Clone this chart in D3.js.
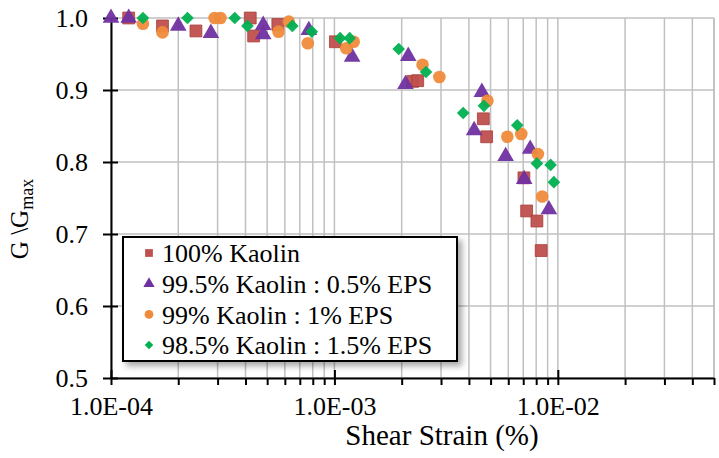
<!DOCTYPE html>
<html>
<head>
<meta charset="utf-8">
<script src="https://cdn.jsdelivr.net/npm/d3@7"></script>
<style>
  body { margin: 0; background: #fff; }
  svg text { font-family: "Liberation Serif", "Times New Roman", serif !important; }
</style>
</head>
<body>
<div id="chart"></div>
<script>
// Data
var kaolinX = [1.20e-4, 1.70e-4, 2.40e-4, 4.20e-4, 4.35e-4, 5.58e-4, 1.01e-3, 2.24e-3, 2.36e-3, 4.64e-3, 4.80e-3, 7.05e-3, 7.25e-3, 8.06e-3, 8.42e-3];
var kaolinY = [1.000, 0.989, 0.982, 1.000, 0.975, 0.991, 0.967, 0.912, 0.913, 0.860, 0.835, 0.778, 0.732, 0.718, 0.677];

var eps05X = [1.00e-4, 1.20e-4, 2.00e-4, 2.80e-4, 4.80e-4, 4.80e-4, 7.68e-4, 1.20e-3, 2.14e-3, 2.08e-3, 4.57e-3, 4.22e-3, 5.84e-3, 7.52e-3, 7.07e-3, 9.12e-3];
var eps05Y = [1.000, 1.000, 0.989, 0.979, 0.990, 0.977, 0.983, 0.946, 0.947, 0.908, 0.897, 0.844, 0.808, 0.818, 0.776, 0.734];

var eps1X = [1.39e-4, 1.70e-4, 2.91e-4, 3.09e-4, 5.62e-4, 6.25e-4, 7.60e-4, 1.13e-3, 1.22e-3, 2.48e-3, 2.95e-3, 4.84e-3, 5.94e-3, 6.86e-3, 8.14e-3, 8.51e-3];
var eps1Y = [0.992, 0.980, 1.000, 1.000, 0.981, 0.995, 0.965, 0.958, 0.967, 0.935, 0.918, 0.885, 0.835, 0.839, 0.811, 0.752];

var eps15X = [1.39e-4, 2.20e-4, 3.58e-4, 4.08e-4, 6.48e-4, 7.92e-4, 1.06e-3, 1.17e-3, 1.94e-3, 2.57e-3, 4.67e-3, 3.77e-3, 6.58e-3, 8.06e-3, 9.28e-3, 9.60e-3];
var eps15Y = [1.000, 1.000, 1.000, 0.989, 0.989, 0.981, 0.972, 0.972, 0.957, 0.925, 0.878, 0.868, 0.851, 0.798, 0.796, 0.772];

var seriesNames = ["100% Kaolin", "99.5% Kaolin : 0.5% EPS", "99% Kaolin : 1% EPS", "98.5% Kaolin : 1.5% EPS"];
var yTicks = [0.5, 0.6, 0.7, 0.8, 0.9, 1.0];
var xMajor = [1e-4, 1e-3, 1e-2];
var xLabels = ["1.0E-04", "1.0E-03", "1.0E-02"];

var width = 719, height = 458;
var margin = {left: 111, right: 5, top: 18, bottom: 80};

var svg = d3.select("#chart").append("svg")
    .attr("width", width)
    .attr("height", height);

var x = d3.scaleLog()
    .domain([1e-4, 5e-2])
    .range([margin.left, width - margin.right]);
var y = d3.scaleLinear()
    .domain([0.5, 1.0])
    .range([height - margin.bottom, margin.top]);

// minor tick values 1..9 per decade
var xMinor = x.ticks().filter(function(d) { return d >= 1e-4 && d <= 5e-2; });

var grid = svg.append("g").attr("stroke", "#c0c0c0").attr("stroke-width", 1.5);
grid.selectAll(".vg").data(xMinor).enter().append("line")
    .attr("x1", function(d) { return x(d); }).attr("x2", function(d) { return x(d); })
    .attr("y1", y(1.0)).attr("y2", y(0.5));
grid.selectAll(".hg").data(yTicks).enter().append("line")
    .attr("x1", x(1e-4)).attr("x2", x(5e-2))
    .attr("y1", function(d) { return y(d); }).attr("y2", function(d) { return y(d); });
grid.append("line")
    .attr("x1", x(5e-2)).attr("x2", x(5e-2))
    .attr("y1", y(1.0)).attr("y2", y(0.5));

// axes
var yAxis = d3.axisLeft(y).tickValues(yTicks).tickFormat(d3.format(".1f"))
    .tickSizeInner(8).tickSizeOuter(0).tickPadding(10);
var gy = svg.append("g")
    .attr("transform", "translate(" + x(1e-4) + ",0)")
    .call(yAxis);
gy.select(".domain").attr("stroke", "#000").attr("stroke-width", 2);
gy.selectAll(".tick line").attr("stroke", "#000").attr("stroke-width", 2).attr("x2", 7).attr("x1", -8);
gy.selectAll(".tick text").attr("font-size", 26).attr("fill", "#000").attr("x", -23);

var xAxis = d3.axisBottom(x).tickValues(xMinor).tickFormat(function(d) {
        var i = xMajor.indexOf(d);
        return i >= 0 ? xLabels[i] : "";
    })
    .tickSizeInner(7).tickSizeOuter(0).tickPadding(12);
var gx = svg.append("g")
    .attr("transform", "translate(0," + y(0.5) + ")")
    .call(xAxis);
gx.select(".domain").attr("stroke", "#000").attr("stroke-width", 2);
gx.selectAll(".tick line").attr("stroke", "#000").attr("stroke-width", 2)
    .attr("y1", function(d) { return xMajor.indexOf(d) >= 0 ? -8 : 0; });
gx.selectAll(".tick text").attr("font-size", 26).attr("fill", "#000");

// axis titles
svg.append("text")
    .attr("x", 442).attr("y", 445)
    .attr("text-anchor", "middle")
    .attr("font-size", 29)
    .text("Shear Strain (%)");

var yt = svg.append("text")
    .attr("transform", "translate(28,219) rotate(-90)")
    .attr("text-anchor", "middle")
    .attr("font-size", 25);
yt.append("tspan").text("G \\G");
yt.append("tspan").attr("font-size", 18).attr("dy", 5).text("max");

// markers
var colors = ["#c0504d", "#7030a0", "#ef8b3b", "#00b050"];
var shapes = [d3.symbolSquare, d3.symbolTriangle, d3.symbolCircle, d3.symbolSquare];
var rotations = [0, 0, 0, 45];
var sizes = [140, 120, 125, 80];
var xs = [kaolinX, eps05X, eps1X, eps15X];
var ys = [kaolinY, eps05Y, eps1Y, eps15Y];

var pts = svg.append("g");
xs.forEach(function(xv, s) {
    var data = xv.map(function(v, i) { return [v, ys[s][i]]; });
    pts.selectAll(".s" + s).data(data).enter().append("path")
        .attr("class", "s" + s)
        .attr("d", d3.symbol().type(shapes[s]).size(sizes[s]))
        .attr("transform", function(d) {
            return "translate(" + x(d[0]) + "," + y(d[1]) + ") rotate(" + rotations[s] + ")";
        })
        .attr("fill", colors[s])
        .attr("fill-opacity", 0.95)
        .attr("stroke", s === 0 ? "#a83c3a" : "none")
        .attr("stroke-width", 0.8);
});

// legend
var defs = svg.append("defs");
var f = defs.append("filter").attr("id", "shadow")
    .attr("x", "-10%").attr("y", "-10%").attr("width", "130%").attr("height", "140%");
f.append("feDropShadow").attr("dx", 4).attr("dy", 4).attr("stdDeviation", 3)
    .attr("flood-color", "#000").attr("flood-opacity", 0.35);

var lg = svg.append("g").attr("transform", "translate(123,237)");
lg.append("rect")
    .attr("width", 334).attr("height", 124)
    .attr("fill", "#fff").attr("stroke", "#000").attr("stroke-width", 2)
    .attr("filter", "url(#shadow)");
var legSizes = [60, 55, 60, 36];
seriesNames.forEach(function(name, i) {
    var row = lg.append("g").attr("transform", "translate(26," + (16 + i * 30.7) + ")");
    row.append("path")
        .attr("d", d3.symbol().type(shapes[i]).size(legSizes[i]))
        .attr("transform", "rotate(" + rotations[i] + ")")
        .attr("fill", colors[i]);
    row.append("text")
        .attr("x", 13).attr("dy", "0.35em")
        .attr("font-size", 26)
        .text(name);
});
</script>
</body>
</html>
